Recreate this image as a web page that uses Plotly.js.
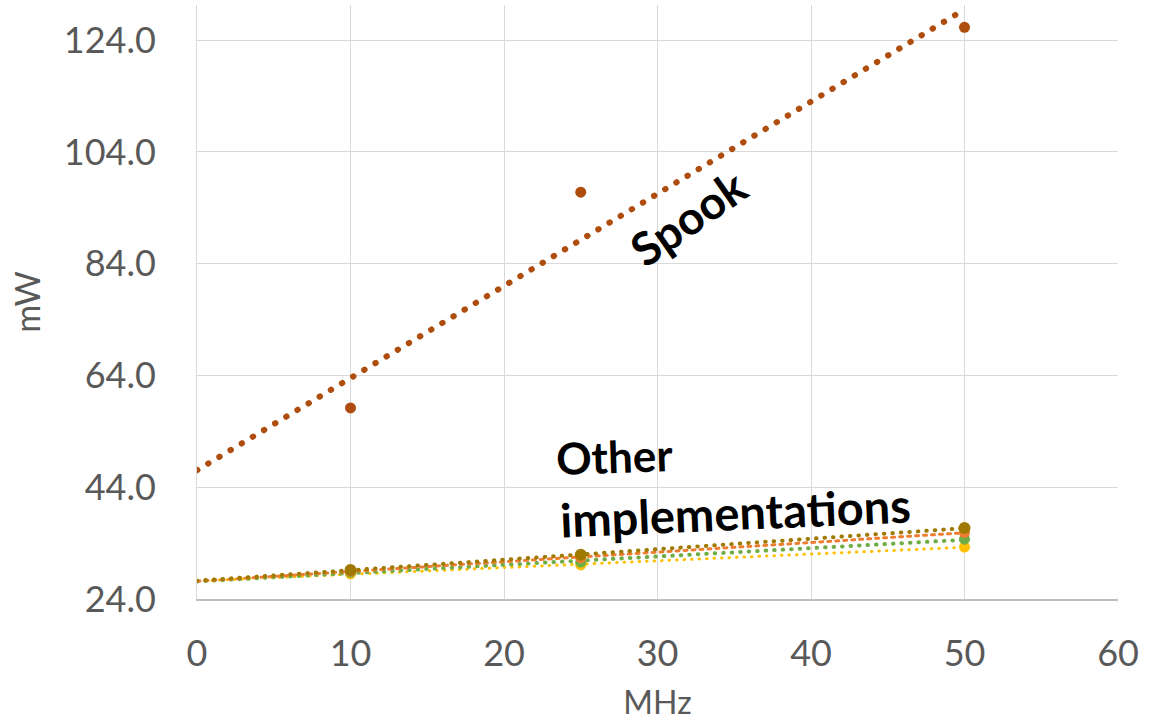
<!DOCTYPE html>
<html>
<head>
<meta charset="utf-8">
<script src="https://cdn.plot.ly/plotly-3.0.1.min.js"></script>
<style>
html,body{margin:0;padding:0;background:#fff;}
#chart{width:1165px;height:721px;}
.scatterlayer .js-line{stroke-linecap:round;}
</style>
</head>
<body>
<div id="chart"></div>
<script>
// Data
const freqMHz = [10, 25, 50];
const spook = [58.2, 96.8, 126.3];
const implOrange = [29.0, 31.4, 35.9];
const implGreen = [28.8, 30.6, 34.7];
const implYellow = [28.5, 30.1, 33.3];
const implGold = [29.2, 31.9, 36.7];
const xTicks = [0, 10, 20, 30, 40, 50, 60];
const yTicks = [24, 44, 64, 84, 104, 124];

function linFit(xs, ys) {
  const n = xs.length;
  const mx = xs.reduce((a, b) => a + b, 0) / n;
  const my = ys.reduce((a, b) => a + b, 0) / n;
  let sxy = 0, sxx = 0;
  for (let i = 0; i < n; i++) { sxy += (xs[i] - mx) * (ys[i] - my); sxx += (xs[i] - mx) ** 2; }
  const m = sxy / sxx;
  return { m: m, b: my - m * mx };
}
function trend(xs, ys, color, width, dash) {
  const f = linFit(xs, ys);
  const tx = [0, Math.max.apply(null, xs)];
  return { x: tx, y: tx.map(v => f.m * v + f.b), mode: 'lines', type: 'scatter',
    line: { color: color, width: width, dash: dash }, hoverinfo: 'skip', showlegend: false };
}
function pts(xs, ys, color, size) {
  return { x: xs, y: ys, mode: 'markers', type: 'scatter',
    marker: { color: color, size: size }, showlegend: false };
}

const cSpook = '#AE4D0E', cOrange = '#ED7D31', cGreen = '#70AD47', cYellow = '#FFC000', cGold = '#A07A00';

const data = [
  trend(freqMHz, implYellow, cYellow, 3, '0.5px,7px'),
  trend(freqMHz, implGreen, cGreen, 4, '0.5px,8px'),
  trend(freqMHz, implOrange, cOrange, 3, '3px,5px'),
  trend(freqMHz, implGold, cGold, 4, '0.5px,8px'),
  trend(freqMHz, spook, cSpook, 6, '0.5px,12.5px'),
  pts(freqMHz, implYellow, cYellow, 11),
  pts(freqMHz, implGreen, cGreen, 11),
  pts(freqMHz, implOrange, cOrange, 11),
  pts(freqMHz, implGold, cGold, 12),
  pts(freqMHz, spook, cSpook, 11)
];

const tickFont = { family: 'Lato, sans-serif', size: 36, color: '#595959' };
const layout = {
  width: 1165, height: 721,
  margin: { l: 197, r: 47, t: 5, b: 122 },
  paper_bgcolor: '#fff', plot_bgcolor: '#fff',
  showlegend: false,
  xaxis: {
    range: [0, 60], tickvals: xTicks, ticktext: xTicks.map(String),
    showgrid: true, gridcolor: '#d9d9d9', gridwidth: 1,
    zeroline: false, showline: true, linecolor: '#bfbfbf', linewidth: 1.5,
    ticks: '', tickfont: tickFont, ticklabelstandoff: 22,
    title: { text: 'MHz', font: { family: 'Lato, sans-serif', size: 32, color: '#595959' }, standoff: 20 }
  },
  yaxis: {
    range: [24, 130.3], tickvals: yTicks, ticktext: yTicks.map(v => v.toFixed(1)),
    showgrid: true, gridcolor: '#d9d9d9', gridwidth: 1,
    zeroline: false, showline: true, linecolor: '#d9d9d9', linewidth: 1,
    ticks: '', tickfont: tickFont, ticklabelstandoff: 33,
    title: { text: 'mW', font: { family: 'Lato, sans-serif', size: 34, color: '#595959' }, standoff: 12 }
  },
  annotations: [
    { x: 32.0, y: 92.2, xref: 'x', yref: 'y', text: '<b>Spook</b>', showarrow: false,
      textangle: -35, font: { family: 'Lato, sans-serif', size: 46, color: '#000' } },
    { x: 23.2, y: 49.6, xref: 'x', yref: 'y', xanchor: 'left', text: '<b>Other</b>', showarrow: false,
      textangle: -2, font: { family: 'Lato, sans-serif', size: 44, color: '#000' } },
    { x: 23.45, y: 39.6, xref: 'x', yref: 'y', xanchor: 'left', text: '<b>implementations</b>', showarrow: false,
      textangle: -2.5, font: { family: 'Lato, sans-serif', size: 47, color: '#000' } }
  ]
};

Plotly.newPlot('chart', data, layout, { staticPlot: true, displayModeBar: false });
</script>
</body>
</html>
